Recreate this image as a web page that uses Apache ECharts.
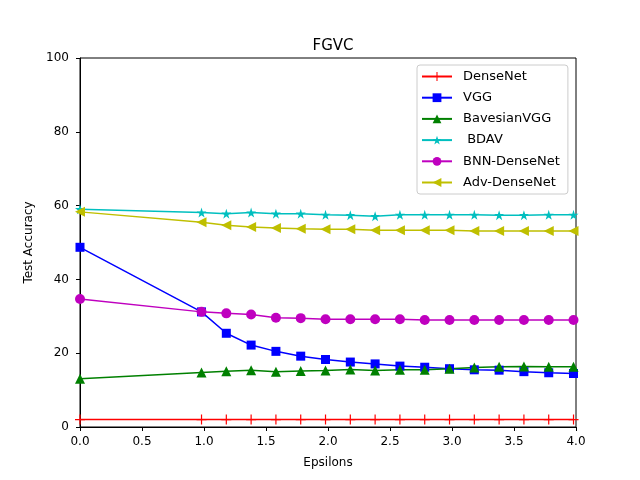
<!DOCTYPE html>
<html>
<head>
<meta charset="utf-8">
<script src="https://cdn.jsdelivr.net/npm/echarts@6/dist/echarts.min.js"></script>
<style>
html, body { margin: 0; padding: 0; background: #fff; }
#chart { width: 640px; height: 480px; }
</style>
</head>
<body>
<div id="chart"></div>
<script>
'use strict';
var epsilons = [0, 0.98, 1.18, 1.38, 1.58, 1.78, 1.98, 2.18, 2.38, 2.58, 2.78, 2.98, 3.18, 3.38, 3.58, 3.78, 3.98];
var denseNet = [2.0, 2.0, 2.0, 2.0, 2.0, 2.0, 2.0, 2.0, 2.0, 2.0, 2.0, 2.0, 2.0, 2.0, 2.0, 2.0, 2.0];
var vgg = [48.7, 31.2, 25.4, 22.2, 20.5, 19.2, 18.3, 17.6, 17.1, 16.5, 16.2, 15.8, 15.5, 15.4, 15.0, 14.7, 14.5];
var bayesianVgg = [13.1, 14.8, 15.1, 15.4, 15.0, 15.2, 15.3, 15.6, 15.3, 15.5, 15.5, 15.8, 16.1, 16.3, 16.4, 16.3, 16.3];
var bdav = [59.0, 58.1, 57.8, 58.1, 57.8, 57.8, 57.5, 57.4, 57.1, 57.5, 57.5, 57.5, 57.5, 57.4, 57.4, 57.5, 57.5];
var bnnDenseNet = [34.7, 31.2, 30.8, 30.5, 29.6, 29.5, 29.2, 29.2, 29.2, 29.2, 29.0, 29.0, 29.0, 29.0, 29.0, 29.0, 29.0];
var advDenseNet = [58.3, 55.5, 54.7, 54.2, 53.9, 53.7, 53.6, 53.6, 53.3, 53.3, 53.3, 53.3, 53.1, 53.1, 53.1, 53.1, 53.1];

var seriesNames = ['DenseNet', 'VGG', 'BavesianVGG', ' BDAV', 'BNN-DenseNet', 'Adv-DenseNet'];
var yTicks = [0, 20, 40, 60, 80, 100];

var plusPath = 'path://M-0.12,-1H0.12V-0.12H1V0.12H0.12V1H-0.12V0.12H-1V-0.12H-0.12Z';
var starPath = 'path://M0,-1L0.2245,-0.309L0.951,-0.309L0.363,0.118L0.588,0.809L0,0.382L-0.588,0.809L-0.363,0.118L-0.951,-0.309L-0.2245,-0.309Z';

function pairs(ys) {
	return epsilons.map(function (x, i) { return [x, ys[i]]; });
}

function makeSeries(name, ys, color, symbol, size, rotate) {
	return {
		name: name,
		type: 'line',
		data: pairs(ys),
		symbol: symbol,
		symbolSize: size,
		symbolRotate: rotate || 0,
		showAllSymbol: true,
		animation: false,
		lineStyle: { color: color, width: 1.5 },
		itemStyle: { color: color, borderWidth: 0 }
	};
}

var font = 'DejaVu Sans';
var myChart = echarts.init(document.getElementById('chart'));
var option = {
	backgroundColor: '#fff',
	textStyle: { fontFamily: font },
	title: {
		text: 'FGVC',
		left: 328,
		textAlign: 'center',
		top: 34,
		textStyle: { fontFamily: font, fontSize: 15, fontWeight: 'normal', color: '#000' }
	},
	legend: {
		data: seriesNames,
		orient: 'vertical',
		left: 417,
		top: 65,
		padding: [5, 8, 5, 4],
		itemGap: 8.2,
		itemWidth: 30,
		itemHeight: 11,
		backgroundColor: '#fff',
		borderColor: '#ccc',
		borderWidth: 1,
		borderRadius: 3,
		textStyle: { fontFamily: font, fontSize: 13, color: '#000', padding: [0, 0, 0, 6] }
	},
	grid: {
		left: 80,
		right: 64,
		top: 58,
		bottom: 53,
		show: true,
		borderColor: '#000',
		borderWidth: 1
	},
	xAxis: {
		type: 'value',
		min: 0,
		max: 4,
		interval: 0.5,
		name: 'Epsilons',
		nameLocation: 'middle',
		nameGap: 30,
		nameTextStyle: { fontFamily: font, fontSize: 12, color: '#000' },
		axisLine: { lineStyle: { color: '#000' } },
		axisTick: { inside: false, length: 4, lineStyle: { color: '#000' } },
		axisLabel: {
			fontFamily: font, fontSize: 12, color: '#000', margin: 9,
			formatter: function (v) { return v.toFixed(1); }
		},
		splitLine: { show: false }
	},
	yAxis: {
		type: 'value',
		min: yTicks[0],
		max: yTicks[yTicks.length - 1],
		interval: 20,
		name: 'Test Accuracy',
		nameLocation: 'middle',
		nameGap: 44,
		nameTextStyle: { fontFamily: font, fontSize: 12, color: '#000' },
		axisLine: { lineStyle: { color: '#000' } },
		axisTick: { inside: false, length: 4, lineStyle: { color: '#000' } },
		axisLabel: { fontFamily: font, fontSize: 12, color: '#000', margin: 11 },
		splitLine: { show: false }
	},
	series: [
		makeSeries(seriesNames[0], denseNet, '#ff0000', plusPath, 10),
		makeSeries(seriesNames[1], vgg, '#0000ff', 'rect', 9),
		makeSeries(seriesNames[2], bayesianVgg, '#008000', 'triangle', 10),
		makeSeries(seriesNames[3], bdav, '#00bfbf', starPath, 10),
		makeSeries(seriesNames[4], bnnDenseNet, '#bf00bf', 'circle', 10),
		makeSeries(seriesNames[5], advDenseNet, '#bfbf00', 'triangle', 10, 90)
	]
};
myChart.setOption(option);
</script>
</body>
</html>
